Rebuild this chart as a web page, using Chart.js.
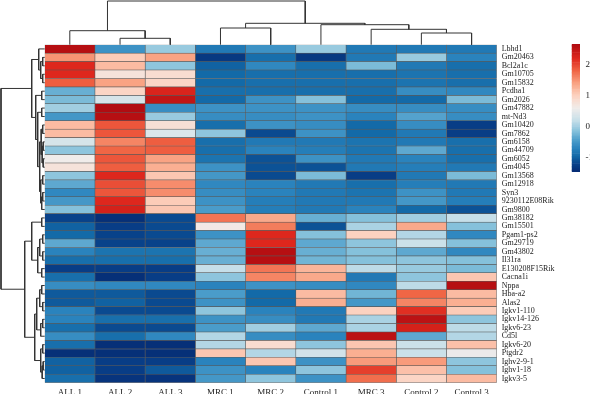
<!DOCTYPE html>
<html><head><meta charset="utf-8">
<script src="https://cdn.jsdelivr.net/npm/chart.js@4.4.1/dist/chart.umd.min.js"></script>
<style>
html,body{margin:0;padding:0;background:#fff;overflow:hidden;width:590px;height:394px;}
canvas{position:absolute;left:0;top:0;width:590px;height:394px;}
</style></head><body>
<canvas id="hm" width="590" height="394"></canvas>
<canvas id="dtop" width="590" height="394"></canvas>
<canvas id="dleft" width="590" height="394"></canvas>
<canvas id="cbar" width="590" height="394"></canvas>
<script>
const genes = ['Lbhd1','Gm20463','Bcl2a1c','Gm10705','Gm15832','Pcdha1','Gm2026','Gm47882','mt-Nd3','Gm10420',
  'Gm7862','Gm6158','Gm44709','Gm6052','Gm4045','Gm13568','Gm12918','Syn3','9230112E08Rik','Gm9800',
  'Gm38182','Gm15501','Pgam1-ps2','Gm29719','Gm43802','Il31ra','E130208F15Rik','Cacna1i','Nppa','Hba-a2',
  'Alas2','Igkv1-110','Igkv14-126','Igkv6-23','Cd5l','Igkv6-20','Ptgdr2','Ighv2-9-1','Ighv1-18','Igkv3-5'];
const samples = ['ALL 1','ALL 2','ALL 3','MRC 1','MRC 2','Control 1','MRC 3','Control 2','Control 3'];

const ALL_1 = [2.6,1.5,2.2,2.2,1.85,-0.3,-0.2,0.0,-0.5,1.2, 1.2,0.35,-0.1,0.6,0.75,-0.1,-0.35,-0.65,-0.5,-0.15,
  -1.2,-1.0,-0.95,-0.35,-0.7,-0.9,-1.25,-0.9,-0.6,-1.05, -1.05,-0.7,-0.7,-0.9,-0.6,-0.9,-1.4,-1.0,-1.0,-0.9];
const ALL_2 = [-0.55,1.05,1.2,0.75,1.4,0.95,0.35,2.65,2.6,1.9, 1.9,1.6,1.8,1.9,1.85,2.2,1.95,1.9,2.2,2.3,
  -1.4,-1.25,-1.2,-1.2,-0.85,-0.9,-1.25,-1.4,-0.65,-1.05, -1.0,-1.15,-0.9,-1.15,-0.9,-1.4,-1.4,-1.25,-1.25,-1.35];
const ALL_3 = [-0.05,1.4,-0.1,0.85,0.95,2.25,2.5,-0.6,-0.05,0.8, 0.4,1.85,1.85,1.4,1.3,1.1,1.55,1.55,1.05,1.1,
  -1.15,-1.15,-1.15,-1.2,-0.85,-0.9,-1.25,-1.25,-0.65,-1.15, -1.15,-1.15,-0.9,-1.15,-0.65,-1.4,-1.4,-1.25,-1.05,-1.35];
const MRC_1 = [-0.8,-1.3,-1.0,-0.95,-0.95,-0.9,-0.95,-0.55,-0.6,-0.9, -0.1,-0.9,-0.9,-0.85,-0.55,-0.5,-0.65,-0.6,-0.55,-0.45,
  1.7,0.65,-0.55,-0.35,-0.3,-0.3,0.2,-0.1,-0.7,-0.45, -0.55,-0.1,-0.55,-0.45,0.1,0.1,1.1,-0.7,-0.55,-0.5];
const MRC_2 = [-0.55,-0.9,-0.65,-0.9,-0.9,-0.9,-0.55,-0.55,-0.6,-0.55, -1.15,-0.8,-0.7,-1.1,-1.1,-1.15,-0.7,-0.7,-0.75,-0.75,
  1.35,1.65,2.2,2.2,2.6,2.6,1.7,1.6,-0.55,-0.95, -0.95,-0.7,-0.6,0.0,-0.6,0.85,0.1,1.1,-0.7,-0.1];
const Control_1 = [-0.05,-1.3,-0.9,-0.9,-0.9,-0.9,-0.15,-0.55,-0.55,-0.6, -0.55,-0.8,-0.75,-0.55,-1.1,-0.2,-0.8,-0.8,-0.8,-0.8,
  -0.3,-1.1,-0.15,-0.35,-0.3,-0.25,1.25,1.35,-0.6,1.2, 1.3,-0.8,-0.8,-0.35,-0.7,-0.1,0.3,-0.55,-0.1,-0.55];
const MRC_3 = [-0.8,-0.8,-0.2,-0.9,-0.9,-0.9,-0.95,-0.6,-0.7,-0.95, -0.95,-0.85,-0.85,-0.8,-0.8,-1.25,-0.9,-0.85,-0.8,-0.7,
  -0.15,0.05,1.0,-0.1,-0.15,-0.15,0.15,-0.8,-0.65,-0.25, -0.5,1.0,0.05,0.05,2.55,1.1,1.3,1.45,2.05,1.75];
const Control_2 = [-0.8,-0.05,-0.8,-0.85,-0.85,-0.6,-0.95,-0.6,-0.4,-0.6, -0.8,-0.8,-0.35,-0.7,-0.75,-0.8,-0.75,-0.55,-0.5,-0.95,
  0.0,1.35,0.1,0.25,-0.35,-0.1,-0.05,-0.1,0.15,1.8, 1.6,2.15,2.55,2.3,-0.35,0.25,0.25,1.45,1.15,0.95];
const Control_3 = [-0.8,-0.7,-0.9,-0.9,-0.9,-0.65,-0.2,-0.6,-0.6,-1.25, -1.25,-0.9,-0.9,-0.9,-0.8,-0.2,-0.8,-0.8,-0.75,-1.1,
  0.2,-0.15,-0.65,-0.15,-0.65,-0.15,-0.2,1.1,2.6,1.2, 1.3,1.05,-0.1,0.15,0.1,1.15,0.55,-0.1,-0.15,1.2];

const colorbarTicks = [-1, 0, 1, 2];
const colorbarRange = [-1.45, 2.68];

// hierarchical clustering merges (hclust style: negative = leaf, positive = earlier merge)
const colMerges = [[-2,-3],[-1,1],[-4,-5],[-8,-9],[-7,4],[-6,5],[3,6],[2,7]];
const colHeights = [6.4,14,16.7,11.7,15.4,20,21.4,43.7];
const rowMerges = [[-2,-3],[-4,-5],[1,2],[-1,3],[-6,-7],[-8,-9],[-10,-11],[-12,-13],[-14,-15],[8,9],
  [7,10],[-16,-17],[-18,-19],[13,-20],[12,14],[11,15],[6,16],[5,17],[4,18],
  [-21,-22],[-23,-24],[-25,-26],[21,22],[-27,-28],[23,24],[20,25],[-29,-30],[-31,-32],[27,28],[-33,-34],
  [30,-35],[29,31],[-36,-37],[-38,-39],[34,-40],[33,35],[32,36],[26,37],[19,38]];
const rowHeights = [2,2,4,6,3,3,2,1.5,1.5,2.5, 3.5,2,2,3,4,5,7,9,13,
  3,2,2,5,3,7,13,3,2,5,2, 4,8,2,1.5,2.5,4,10,20,43.7];

// ---------- helpers ----------
const stops = [[-1.45,'#062B74'],[-1.2,'#08428A'],[-0.95,'#136AA8'],[-0.7,'#2A83BD'],[-0.45,'#4A9CCA'],
  [-0.15,'#85C1DB'],[0.2,'#C6DFE9'],[0.6,'#F0ECEA'],[1.0,'#FCD2C0'],[1.4,'#F9A383'],[1.8,'#F06645'],
  [2.2,'#DE271D'],[2.68,'#AE0A10']];
function hex(c){return [parseInt(c.slice(1,3),16),parseInt(c.slice(3,5),16),parseInt(c.slice(5,7),16)];}
function colorFor(v){
  if (v <= stops[0][0]) return stops[0][1];
  for (let i=1;i<stops.length;i++){
    if (v <= stops[i][0]){
      const t=(v-stops[i-1][0])/(stops[i][0]-stops[i-1][0]);
      const a=hex(stops[i-1][1]), b=hex(stops[i][1]);
      return 'rgb('+a.map((x,k)=>Math.round(x+(b[k]-x)*t)).join(',')+')';
    }
  }
  return stops[stops.length-1][1];
}
function dendroSegments(merges, heights){
  const pos=[], hh=[], segs=[];
  merges.forEach((m,k)=>{
    const ch = m.map(id => id<0 ? {p:-id-0.5,h:0} : {p:pos[id-1],h:hh[id-1]});
    const h = heights[k];
    pos[k]=(ch[0].p+ch[1].p)/2; hh[k]=h;
    segs.push([[ch[0].p,ch[0].h],[ch[0].p,h],[ch[1].p,h],[ch[1].p,ch[1].h]]);
  });
  return segs;
}
Chart.defaults.font.family = "'Liberation Serif','Times New Roman',serif";
Chart.defaults.color = '#222';
const base = {responsive:false, animation:false, devicePixelRatio:1,
  plugins:{legend:{display:false}, tooltip:{enabled:false}}};

// ---------- heatmap ----------
const columns = [ALL_1,ALL_2,ALL_3,MRC_1,MRC_2,Control_1,MRC_3,Control_2,Control_3];
new Chart(document.getElementById('hm'), {
  type:'bar',
  data:{labels:genes, datasets: columns.map((vals,i)=>({
    label:samples[i], data: vals.map(()=>[i,i+1]),
    backgroundColor: vals.map(colorFor), borderColor:'#5a5a5a', borderWidth:0.6, borderSkipped:false,
    barPercentage:1, categoryPercentage:1, grouped:false
  }))},
  options:Object.assign({}, base, {
    indexAxis:'y',
    layout:{padding:{left:44.7, top:44.7, right:0, bottom:0}},
    scales:{
      x:{type:'linear', min:0, max:9, position:'bottom',
        grid:{display:false, drawTicks:false}, border:{display:false},
        afterBuildTicks:s=>{ s.ticks = samples.map((_,i)=>({value:i+0.5})); },
        afterFit:s=>{ s.height = 11.3; },
        ticks:{autoSkip:false, maxRotation:0, padding:4.2, font:{size:9}, callback:(v,i)=>samples[i]}},
      y:{type:'category', position:'right', grid:{display:false, drawTicks:false}, border:{display:false},
        afterFit:s=>{ s.width = 93.3; },
        ticks:{autoSkip:false, padding:5, font:{size:8}}}
    }
  })
});

// ---------- top dendrogram ----------
const lineStyle = {showLine:true, pointRadius:0, borderColor:'#333', borderWidth:1, tension:0, fill:false, clip:false};
new Chart(document.getElementById('dtop'), {
  type:'scatter',
  data:{datasets: dendroSegments(colMerges, colHeights).map(s=>Object.assign({data:s.map(p=>({x:p[0],y:p[1]}))}, lineStyle))},
  options:Object.assign({}, base, {
    layout:{padding:{left:44.7, right:93.3, top:1, bottom:349.3}},
    scales:{x:{type:'linear', min:0, max:9, display:false}, y:{type:'linear', min:0, max:43.7, display:false}}
  })
});

// ---------- left dendrogram ----------
new Chart(document.getElementById('dleft'), {
  type:'scatter',
  data:{datasets: dendroSegments(rowMerges, rowHeights).map(s=>Object.assign({data:s.map(p=>({x:p[1],y:p[0]}))}, lineStyle))},
  options:Object.assign({}, base, {
    layout:{padding:{left:1, right:545.3, top:44.7, bottom:11.3}},
    scales:{x:{type:'linear', min:0, max:43.7, reverse:true, display:false},
            y:{type:'linear', min:0, max:40, reverse:true, display:false}}
  })
});

// ---------- colour bar ----------
const nSeg = 90;
const segData = [];
for (let k=0;k<nSeg;k++){
  const a = colorbarRange[0]+(colorbarRange[1]-colorbarRange[0])*k/nSeg;
  const b = colorbarRange[0]+(colorbarRange[1]-colorbarRange[0])*(k+1)/nSeg;
  segData.push([a,b]);
}
new Chart(document.getElementById('cbar'), {
  type:'bar',
  data:{labels:[''], datasets: segData.map(s=>({data:[s], backgroundColor:colorFor((s[0]+s[1])/2),
    borderWidth:0, barPercentage:1, categoryPercentage:1, grouped:false}))},
  options:Object.assign({}, base, {
    layout:{padding:{left:571.7, right:0, top:44, bottom:222}},
    scales:{
      x:{display:false},
      y:{type:'linear', min:colorbarRange[0], max:colorbarRange[1], position:'right',
        grid:{display:false, drawTicks:false}, border:{display:false},
        afterBuildTicks:s=>{ s.ticks = colorbarTicks.map(v=>({value:v})); },
        afterFit:s=>{ s.width = 10; },
        ticks:{padding:5.5, font:{size:9}}}
    }
  })
});
</script>
</body></html>
